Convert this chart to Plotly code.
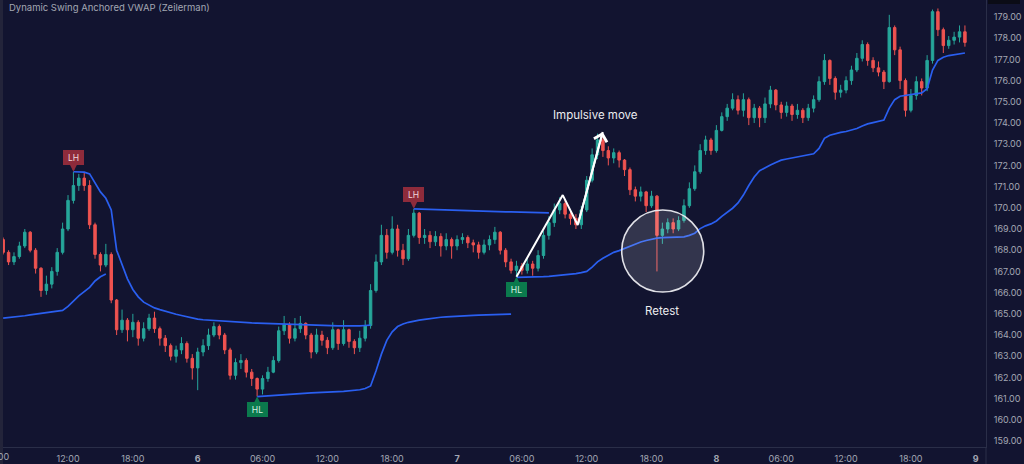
import plotly.graph_objects as go
import pandas as pd

# ---------------- data (30-minute candles) ----------------
START = "2024-03-05 06:00"
first_open = 168.5

close_ = [
    167.9, 167.45, 167.7, 168.2, 168.85, 168.0, 167.15, 166.1, 166.4, 167.0,
    167.9, 169.0, 170.35, 171.05, 171.4, 171.05, 169.2, 167.8, 167.3, 167.8,
    165.65, 164.25, 164.7, 164.25, 164.6, 163.85, 164.3, 164.8, 164.3, 163.85,
    163.5, 163.0, 163.3, 163.6, 162.9, 162.45, 163.2, 163.5, 164.0, 164.4,
    164.0, 163.3, 162.1, 162.7, 162.8, 162.25, 161.95, 161.45, 161.95, 162.25,
    162.8, 164.2, 164.5, 163.85, 164.3, 164.55, 164.0, 163.2, 164.0, 163.75,
    163.4, 164.25, 163.6, 164.25, 163.7, 163.4, 163.85, 164.45, 166.1, 167.45,
    168.7, 167.9, 169.0, 168.0, 167.6, 168.7, 169.75, 168.6, 168.7, 168.4,
    168.65, 168.2, 168.5, 168.2, 168.5, 168.6, 168.35, 168.25, 167.9, 168.25,
    168.5, 168.85, 168.0, 167.45, 167.05, 167.25, 167.05, 167.35, 167.15, 167.75,
    168.7, 169.3, 169.9, 170.2, 169.7, 169.5, 169.2, 169.9, 171.3, 172.5,
    173.2, 172.7, 172.35, 172.6, 172.25, 171.8, 170.85, 170.55, 170.75, 170.1,
    170.55, 168.7, 169.0, 169.3, 169.0, 169.4, 170.1, 170.9, 171.7, 172.7,
    173.2, 172.7, 173.65, 174.3, 174.7, 175.1, 174.6, 175.1, 174.25, 174.7,
    174.25, 174.9, 175.55, 174.85, 174.5, 174.8, 174.4, 174.6, 174.25, 174.7,
    175.1, 175.95, 176.95, 176.1, 175.45, 175.55, 176.0, 176.5, 177.05, 177.7,
    176.95, 176.6, 176.4, 175.95, 178.5, 177.45, 176.0, 174.6, 175.3, 175.95,
    175.65, 176.95, 179.25, 178.4, 177.65, 177.9, 178.05, 178.3, 177.8,
]

high_ = [
    168.6, 168.0, 167.9, 168.4, 169.0, 168.9, 168.1, 167.2, 166.8, 167.2,
    168.1, 169.3, 170.6, 171.7, 171.6, 171.65, 171.3, 169.3, 167.9, 168.3,
    167.9, 165.7, 165.2, 164.8, 165.0, 164.7, 164.6, 165.0, 165.1, 164.4,
    164.0, 163.6, 163.5, 163.9, 163.7, 163.1, 163.4, 163.8, 164.3, 164.6,
    164.5, 164.1, 163.4, 162.9, 163.1, 162.9, 162.4, 162.0, 162.1, 162.5,
    163.0, 164.4, 164.9, 164.6, 164.8, 164.9, 164.6, 164.1, 164.3, 164.2,
    163.9, 164.6, 164.3, 164.7, 164.3, 163.8, 164.2, 164.7, 166.4, 167.8,
    169.2, 169.0, 169.6, 169.2, 168.3, 169.0, 169.95, 169.8, 169.0, 168.9,
    168.9, 168.8, 168.8, 168.6, 168.7, 168.8, 168.7, 168.5, 168.4, 168.5,
    168.7, 169.1, 168.9, 168.1, 167.6, 167.5, 167.4, 167.6, 167.5, 168.0,
    168.9, 169.6, 170.2, 170.5, 170.4, 169.9, 169.7, 170.1, 171.5, 172.8,
    173.5, 173.45, 172.9, 172.8, 172.7, 172.3, 171.9, 171.0, 171.0, 170.8,
    170.8, 170.6, 169.3, 169.5, 169.5, 169.6, 170.4, 171.2, 172.0, 173.0,
    173.4, 173.3, 173.9, 174.5, 174.9, 175.4, 175.3, 175.4, 175.2, 174.9,
    174.8, 175.2, 175.75, 175.6, 175.0, 175.0, 174.9, 174.9, 174.7, 174.9,
    175.3, 176.2, 177.25, 177.0, 176.2, 175.8, 176.2, 176.7, 177.3, 177.9,
    177.8, 177.1, 176.9, 176.5, 179.1, 178.6, 177.6, 176.1, 175.6, 176.2,
    176.1, 177.2, 179.35, 179.4, 178.5, 178.1, 178.3, 178.6, 178.6,
]

low_ = [
    167.8, 167.3, 167.3, 167.6, 168.1, 167.9, 166.9, 165.8, 165.9, 166.2,
    166.8, 167.8, 168.9, 170.2, 170.8, 170.8, 169.0, 167.6, 167.0, 167.2,
    165.5, 164.0, 164.1, 163.7, 163.9, 163.5, 163.7, 164.2, 164.1, 163.5,
    163.2, 162.8, 162.7, 163.1, 162.7, 161.9, 161.4, 163.0, 163.3, 163.9,
    163.8, 163.1, 161.9, 161.9, 162.4, 162.0, 161.6, 161.1, 161.2, 161.8,
    162.2, 162.7, 164.0, 163.6, 163.7, 164.1, 163.8, 162.9, 163.1, 163.5,
    163.1, 163.3, 163.3, 163.5, 163.4, 163.1, 163.2, 163.7, 164.3, 166.0,
    167.3, 167.6, 167.8, 167.7, 167.3, 167.5, 168.6, 168.3, 168.3, 168.1,
    168.2, 167.7, 168.0, 167.6, 168.0, 168.3, 168.1, 167.9, 167.6, 167.8,
    168.0, 168.3, 167.8, 167.2, 166.9, 166.75, 166.85, 166.9, 166.8, 167.0,
    167.6, 168.5, 169.1, 169.7, 169.5, 169.2, 169.0, 169.0, 169.8, 171.2,
    172.3, 172.4, 172.0, 172.1, 171.9, 171.5, 170.6, 170.3, 170.3, 169.8,
    170.0, 167.0, 168.3, 168.8, 168.8, 168.9, 169.3, 170.0, 170.8, 171.6,
    172.5, 172.5, 172.6, 173.6, 174.1, 174.6, 174.4, 174.3, 173.9, 174.0,
    173.8, 174.0, 174.7, 174.6, 174.2, 174.3, 174.1, 174.2, 174.0, 174.1,
    174.5, 175.0, 175.8, 175.8, 175.1, 175.2, 175.4, 175.8, 176.4, 176.9,
    176.7, 176.4, 176.2, 175.6, 175.9, 177.2, 175.6, 174.3, 174.5, 175.1,
    175.3, 175.5, 176.8, 178.1, 177.3, 177.5, 177.7, 177.8, 177.6,
]

# anchored VWAP segments: (start candle index, values)
vwap_prev_start = 0
vwap_prev = [164.80, 164.82, 164.85, 164.88, 164.91, 164.95, 164.98, 165.02, 165.06, 165.09,
             165.12, 165.16, 165.35, 165.60, 165.85, 166.05, 166.25, 166.55, 166.75, 166.88]

vwap_lh1_start = 13
vwap_lh1 = [171.70, 171.70, 171.68, 171.60, 171.15, 170.75, 170.45, 169.90, 168.00, 167.30,
            166.65, 166.15, 165.80, 165.55, 165.40, 165.28, 165.20, 165.12, 165.05, 164.98,
            164.92, 164.86, 164.80, 164.75, 164.72, 164.70, 164.68, 164.66, 164.64, 164.62,
            164.60, 164.59, 164.58, 164.57, 164.56, 164.55, 164.54, 164.53, 164.52, 164.51,
            164.50, 164.49, 164.48, 164.47, 164.46, 164.45, 164.45, 164.44, 164.44, 164.43,
            164.43, 164.42, 164.42, 164.43, 164.45, 164.47]

vwap_hl1_start = 47
vwap_hl1 = [161.10, 161.12, 161.14, 161.16, 161.18, 161.20, 161.22, 161.23, 161.24, 161.26,
            161.27, 161.28, 161.30, 161.31, 161.32, 161.33, 161.34, 161.36, 161.38, 161.42,
            161.48, 161.60, 162.30, 163.10, 163.75, 164.15, 164.40, 164.52, 164.60, 164.66,
            164.70, 164.74, 164.78, 164.81, 164.84, 164.86, 164.88, 164.90, 164.91, 164.92,
            164.93, 164.94, 164.95, 164.96, 164.97, 164.98, 164.98, 164.99]

vwap_lh2_start = 76
vwap_lh2 = [169.95, 169.94, 169.93, 169.92, 169.91, 169.90, 169.89, 169.88, 169.87, 169.86,
            169.86, 169.85, 169.84, 169.83, 169.83, 169.82, 169.82, 169.81, 169.81, 169.80,
            169.80, 169.79, 169.79, 169.78, 169.77, 169.76]

vwap_hl2_start = 95
vwap_hl2 = [166.72, 166.72, 166.73, 166.73, 166.74, 166.75, 166.77, 166.79, 166.81, 166.84,
            166.87, 166.90, 166.94, 167.00, 167.20, 167.45, 167.62, 167.78, 167.90, 167.98,
            168.08, 168.20, 168.30, 168.39, 168.46, 168.52, 168.57, 168.59, 168.60, 168.61,
            168.62, 168.63, 168.70, 168.80, 169.02, 169.15, 169.24, 169.38, 169.60, 169.78,
            169.98, 170.23, 170.60, 171.05, 171.45, 171.75, 171.90, 172.02, 172.14, 172.25,
            172.30, 172.35, 172.40, 172.45, 172.50, 172.55, 172.80, 173.28, 173.42, 173.50,
            173.56, 173.60, 173.66, 173.74, 173.86, 173.96, 174.02, 174.08, 174.14, 174.70,
            175.10, 175.26, 175.30, 175.34, 175.38, 175.42, 175.62, 176.50, 176.95, 177.10,
            177.18, 177.22, 177.26, 177.30]

# swing labels
swing_idx = [13, 47, 76, 95]
swing_type = ["LH", "HL", "LH", "HL"]

# hand-drawn impulsive move zig-zag (time, price)
zz_time = ["2024-03-07 05:30", "2024-03-07 09:47", "2024-03-07 11:10", "2024-03-07 13:29"]
zz_price = [166.75, 170.60, 169.19, 173.58]

# retest circle centre
retest_time = "2024-03-07 19:02"
retest_price = 167.96

# x tick labels
xtick_vals = pd.date_range("2024-03-05 12:00", "2024-03-09 00:00", freq="6h")
xtick_text = ["12:00", "18:00", "<b>6</b>", "06:00", "12:00", "18:00", "<b>7</b>",
              "06:00", "12:00", "18:00", "<b>8</b>", "06:00", "12:00", "18:00", "<b>9</b>"]
edge_tick_text = "06:00"   # first label, clipped by the left edge
ytick_vals = list(range(159, 180))
ytick_text = [f"{v:.2f}" for v in ytick_vals]

# ---------------- styling ----------------
BG = "#121430"
UP = "#26a69a"
DN = "#ef5350"
BLUE = "#2a5ff0"
AXIS = "#2a2e48"
TXT = "#a3a7b3"
FONT = "Inter"

times = pd.date_range(START, periods=len(close_), freq="30min")
open_ = [first_open] + close_[:-1]

fig = go.Figure()
fig.add_trace(go.Candlestick(
    x=times, open=open_, high=high_, low=low_, close=close_,
    increasing=dict(line=dict(color=UP, width=1), fillcolor=UP),
    decreasing=dict(line=dict(color=DN, width=1), fillcolor=DN),
    whiskerwidth=0, hoverinfo="skip", showlegend=False,
))

for start, vals in [(vwap_prev_start, vwap_prev), (vwap_lh1_start, vwap_lh1),
                    (vwap_hl1_start, vwap_hl1), (vwap_lh2_start, vwap_lh2),
                    (vwap_hl2_start, vwap_hl2)]:
    fig.add_trace(go.Scatter(
        x=times[start:start + len(vals)], y=vals, mode="lines",
        line=dict(color=BLUE, width=1.7), hoverinfo="skip", showlegend=False,
    ))

fig.add_trace(go.Scatter(
    x=zz_time, y=zz_price, mode="lines", line=dict(color="white", width=2),
    hoverinfo="skip", showlegend=False,
))
fig.add_annotation(
    x=zz_time[-1], y=zz_price[-1], ax=zz_time[-2], ay=zz_price[-2],
    xref="x", yref="y", axref="x", ayref="y", text="", showarrow=True,
    arrowhead=4, arrowsize=1.3, arrowwidth=2, arrowcolor="white",
)

fig.add_shape(
    type="circle", xref="x", yref="y", xsizemode="pixel", ysizemode="pixel",
    xanchor=retest_time, yanchor=retest_price, x0=-41, x1=41, y0=-41, y1=41,
    line=dict(color="rgba(235,235,240,0.95)", width=1.6),
    fillcolor="rgba(255,255,255,0.14)", layer="above",
)

for idx, kind in zip(swing_idx, swing_type):
    if kind == "LH":
        y, ay, bg, fc = high_[idx], -14, "#8e2b3b", "#f0d6da"
    else:
        y, ay, bg, fc = low_[idx], 13, "#0b7a4d", "#d6f0e4"
    fig.add_annotation(
        x=times[idx], y=y, text=kind, showarrow=True, ax=0, ay=ay,
        arrowhead=2, arrowsize=0.8, arrowwidth=2, arrowcolor=bg,
        bgcolor=bg, bordercolor=bg, borderwidth=1, borderpad=1,
        width=17, height=11, font=dict(size=8.5, color=fc, family=FONT),
    )

fig.add_annotation(x="2024-03-07 12:50", y=174.38, text="Impulsive move", showarrow=False,
                   font=dict(size=11.5, color="#ececef", family=FONT))
fig.add_annotation(x="2024-03-07 18:56", y=165.13, text="Retest", showarrow=False,
                   font=dict(size=11.5, color="#ececef", family=FONT))

fig.add_annotation(xref="paper", yref="paper", x=4 / 983, y=1 - 7 / 447,
                   xanchor="left", yanchor="middle", showarrow=False,
                   text="Dynamic Swing Anchored VWAP (Zeilerman)",
                   font=dict(size=9.5, color=TXT, family=FONT))

# clipped first time label at the left edge
fig.add_annotation(xref="paper", yref="paper", x=-6 / 983, y=-9.5 / 447,
                   xanchor="center", yanchor="middle", showarrow=False,
                   text=edge_tick_text, font=dict(size=9, color=TXT, family=FONT))

# window chrome
fig.add_shape(type="rect", xref="paper", yref="paper", x0=-3 / 983, x1=0, y0=-17 / 447, y1=1,
              line=dict(width=0), fillcolor="#23243a", layer="above")
fig.add_shape(type="rect", xref="paper", yref="paper", x0=2 / 983 + 1, x1=34 / 983 + 1,
              y0=1 - 4 / 447, y1=1, line=dict(width=0), fillcolor="#0b0c16", layer="above")
fig.add_shape(type="line", xref="paper", yref="paper", x0=1, x1=1, y0=-17 / 447, y1=0,
              line=dict(color=AXIS, width=1))

fig.update_layout(
    width=1024, height=464,
    margin=dict(l=3, r=38, t=0, b=17),
    paper_bgcolor=BG, plot_bgcolor=BG,
    font=dict(family=FONT, color=TXT, size=9),
    showlegend=False,
    boxgap=0.35,
    xaxis=dict(
        type="date", range=["2024-03-05 05:59:00", "2024-03-09 00:57"],
        rangeslider=dict(visible=False), showgrid=False, zeroline=False,
        showline=True, linecolor=AXIS, linewidth=1, automargin=False,
        tickmode="array", tickvals=xtick_vals, ticktext=xtick_text,
        ticks="", tickfont=dict(size=9, color=TXT, family=FONT),
        ticklabelstandoff=3,
    ),
    yaxis=dict(
        side="right", range=[158.72, 179.80], showgrid=False, zeroline=False,
        showline=True, linecolor=AXIS, linewidth=1,
        tickmode="array", tickvals=ytick_vals, ticktext=ytick_text,
        ticks="", tickfont=dict(size=9, color=TXT, family=FONT),
        ticklabelstandoff=5,
    ),
)

fig.write_html(
    "out.html",
    config={"displayModeBar": False, "staticPlot": True},
    post_script="document.body.style.margin='0';document.body.style.overflow='hidden';"
                "document.body.style.background='" + BG + "';",
)
